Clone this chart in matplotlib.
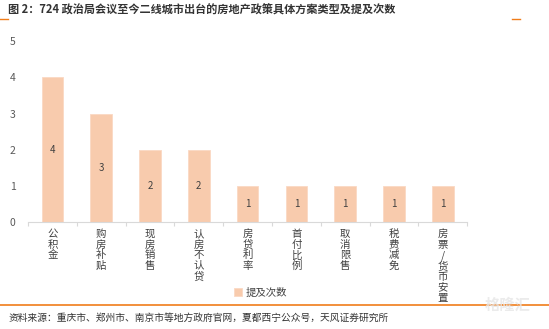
import numpy as np
import matplotlib
matplotlib.use("Agg")
import matplotlib.pyplot as plt

plt.rcParams["font.family"] = ["Noto Sans CJK SC", "DejaVu Sans"]

categories = ["公积金", "购房补贴", "现房销售", "认房不认贷", "房贷利率",
              "首付比例", "取消限售", "税费减免", "房票/货币安置"]
counts = [4, 3, 2, 2, 1, 1, 1, 1, 1]
series_name = "提及次数"
title_text = "图 2：724 政治局会议至今二线城市出台的房地产政策具体方案类型及提及次数"
source_text = "资料来源：重庆市、郑州市、南京市等地方政府官网，夏都西宁公众号，天风证券研究所"

BAR = "#F8CBAD"
ORANGE = "#F07D1A"

fig = plt.figure(figsize=(5.49, 3.29), dpi=100)
ax = fig.add_axes([0.051, 0.325, 0.80, 0.55])

x = np.arange(len(categories))
ax.bar(x, counts, 0.44, color=BAR, edgecolor="#FAD9C4", linewidth=0.6,
       label=series_name)
for xi, v in zip(x, counts):
    ax.text(xi, v / 2, str(v), ha="center", va="center", fontsize=7, color="#404040")

ax.set_xlim(-0.5, len(categories) - 0.5)
ax.set_ylim(0, 5)
ax.set_yticks(range(0, 6))
ax.tick_params(axis="y", length=0, labelsize=7.5, labelcolor="#595959", pad=9)
ax.set_xticks(x)
ax.set_xticklabels(["\n".join(c) for c in categories], fontsize=7.5,
                   color="#404040", linespacing=1.07, va="top")
ax.tick_params(axis="x", length=0, pad=5)
ax.set_xticks(np.arange(-0.5, len(categories), 1.0), minor=True)
ax.tick_params(axis="x", which="minor", length=3, color="#D9D9D9", width=0.8)
for s in ["left", "right", "top"]:
    ax.spines[s].set_visible(False)
ax.spines["bottom"].set_color("#D9D9D9")
ax.spines["bottom"].set_linewidth(0.8)

ax.legend(loc="center", bbox_to_anchor=(0.53, -0.39), frameon=False, fontsize=7.5,
          handlelength=0.7, handleheight=0.7, handletextpad=0.4, labelcolor="#404040")

fig.text(0.015, 0.968, title_text, fontsize=8, fontweight="bold", color="#333333",
         ha="left", va="center")
fig.add_artist(plt.Line2D([0.0, 0.014], [0.942, 0.942], color=ORANGE, lw=1))
fig.add_artist(plt.Line2D([0.933, 0.947], [0.942, 0.942], color=ORANGE, lw=1))
fig.add_artist(plt.Line2D([0.0, 1.0], [0.073, 0.073], color=ORANGE, lw=1.2))
fig.text(0.015, 0.033, source_text, fontsize=7, color="#333333", ha="left", va="center")
fig.text(0.925, 0.075, "格隆汇", fontsize=11, color="#E6E6E6", ha="center",
         va="center", fontweight="bold", alpha=0.8)

fig.savefig("out.png", dpi=100)
